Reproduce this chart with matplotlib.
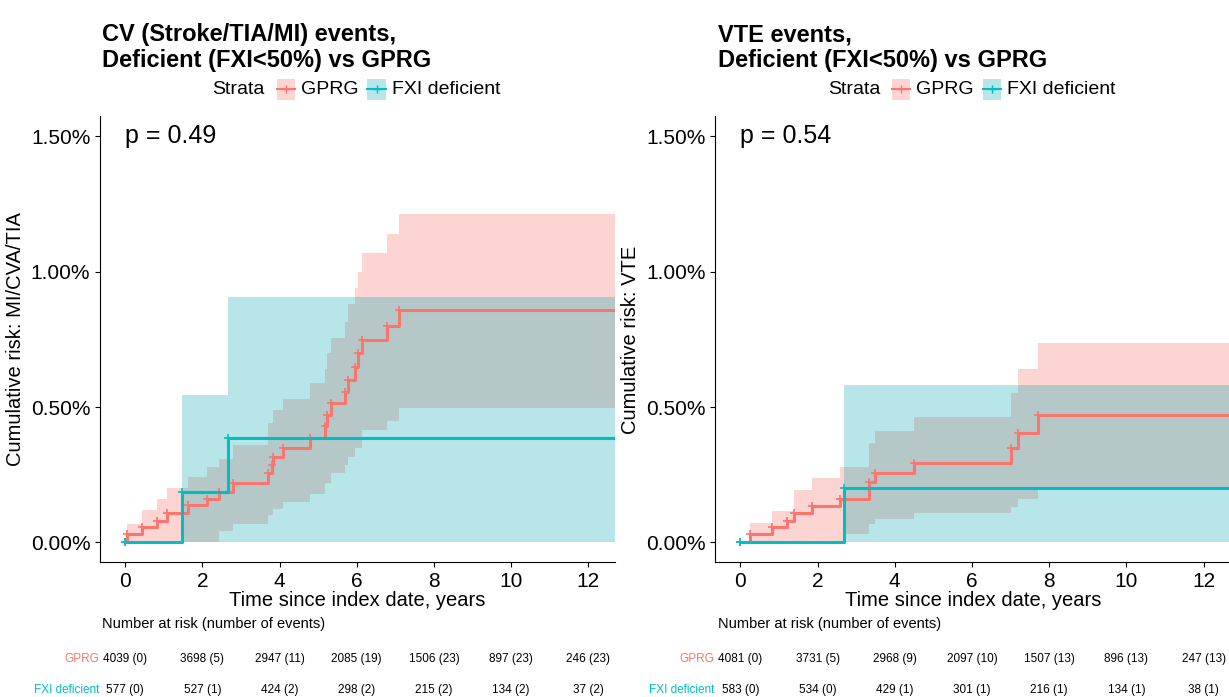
import matplotlib.pyplot as plt
import numpy as np

plt.rcParams['font.family'] = ['Liberation Sans', 'DejaVu Sans']

RED = "#F8766D"
TEAL = "#00BFC4"
TEAL_FILL = "#14A9B2"

# ---- left panel: CV events (years, cumulative risk %)
cv_g_t = [0, 0.04, 0.43, 0.82, 1.08, 1.64, 2.12, 2.42, 2.8, 3.71, 3.8, 3.84, 4.08, 4.79, 5.18,
          5.22, 5.33, 5.7, 5.78, 5.96, 6.04, 6.13, 6.78, 7.1, 12.7]
cv_g_est = [0, 0.033, 0.056, 0.08, 0.107, 0.137, 0.16, 0.185, 0.218, 0.255, 0.285, 0.315, 0.348,
            0.385, 0.43, 0.47, 0.515, 0.555, 0.6, 0.65, 0.70, 0.748, 0.80, 0.86, 0.86]
cv_g_lo = [0, 0, 0, 0, 0, 0, 0, 0.044, 0.07, 0.1, 0.1, 0.125, 0.15, 0.18, 0.22, 0.22, 0.255,
           0.285, 0.315, 0.35, 0.35, 0.415, 0.45, 0.495, 0.495]
cv_g_hi = [0, 0.07, 0.12, 0.16, 0.2, 0.24, 0.28, 0.31, 0.36, 0.44, 0.44, 0.49, 0.53, 0.59, 0.64,
           0.70, 0.755, 0.815, 0.88, 0.94, 1.0, 1.07, 1.14, 1.215, 1.215]
cv_f_t = [0, 1.47, 2.66, 12.7]
cv_f_est = [0, 0.185, 0.385, 0.385]
cv_f_lo = [0, 0, 0, 0]
cv_f_hi = [0, 0.545, 0.908, 0.908]

# ---- right panel: VTE events
vte_g_t = [0, 0.26, 0.82, 1.21, 1.38, 1.86, 2.59, 2.69, 3.34, 3.5, 4.51, 7.0, 7.2, 7.7, 12.7]
vte_g_est = [0, 0.032, 0.057, 0.081, 0.107, 0.135, 0.16, 0.16, 0.223, 0.255, 0.292, 0.348,
             0.405, 0.47, 0.47]
vte_g_lo = [0, 0, 0, 0, 0, 0, 0, 0.033, 0.067, 0.085, 0.107, 0.13, 0.162, 0.195, 0.195]
vte_g_hi = [0, 0.072, 0.118, 0.118, 0.195, 0.238, 0.28, 0.28, 0.367, 0.41, 0.465, 0.553,
            0.64, 0.737, 0.737]
vte_f_t = [0, 2.69, 12.7]
vte_f_est = [0, 0.2, 0.2]
vte_f_lo = [0, 0, 0]
vte_f_hi = [0, 0.58, 0.58]

times = [0, 2, 4, 6, 8, 10, 12]
cv_risk_g = ["4039 (0)", "3698 (5)", "2947 (11)", "2085 (19)", "1506 (23)", "897 (23)", "246 (23)"]
cv_risk_f = ["577 (0)", "527 (1)", "424 (2)", "298 (2)", "215 (2)", "134 (2)", "37 (2)"]
vte_risk_g = ["4081 (0)", "3731 (5)", "2968 (9)", "2097 (10)", "1507 (13)", "896 (13)", "247 (13)"]
vte_risk_f = ["583 (0)", "534 (0)", "429 (1)", "301 (1)", "216 (1)", "134 (1)", "38 (1)"]

fig = plt.figure(figsize=(12.29, 6.97), dpi=100)


def panel(left, width, title, ylabel, pval, groups, risk_g, risk_f):
    ax = fig.add_axes([left, 0.193, width, 0.640])
    for t, est, lo, hi, col, fcol in groups:
        ax.fill_between(t, lo, hi, step="post", color=fcol, alpha=0.3, lw=0)
        ax.step(t, est, where="post", color=col, lw=2.2)
        ax.plot(t[:-1], est[:-1], "+", color=col, ms=6, mew=1.2)
    ax.set_xlim(-0.65, 12.69)
    ax.set_ylim(-0.074, 1.574)
    ax.set_xticks(times)
    ax.set_yticks([0, 0.5, 1.0, 1.5])
    ax.set_yticklabels(["0.00%", "0.50%", "1.00%", "1.50%"])
    ax.tick_params(labelsize=15, colors="black")
    for s in ["top", "right"]:
        ax.spines[s].set_visible(False)
    ax.set_xlabel("Time since index date, years", fontsize=14.5, labelpad=0)
    ax.set_ylabel(ylabel, fontsize=14.5)
    ax.text(0, 1.5, pval, fontsize=18, va="center")
    fig.text(left + 0.002, 0.932, title, fontsize=17, fontweight="bold", va="center",
             linespacing=1.15)
    # legend row
    off = left - 0.0814
    fig.text(0.173 + off, 0.872, "Strata", fontsize=14, va="center")
    for x0, lab, col, fcol in [(0.225, "GPRG", RED, RED), (0.299, "FXI deficient", TEAL, TEAL_FILL)]:
        x0 += off
        fig.patches.append(plt.Rectangle((x0, 0.857), 0.015, 0.03, transform=fig.transFigure,
                                         color=fcol, alpha=0.3, lw=0))
        fig.lines.append(plt.Line2D([x0, x0 + 0.0075, x0 + 0.015], [0.872, 0.872, 0.872],
                                    transform=fig.transFigure, color=col, lw=1.5,
                                    marker="+", markevery=[1], ms=6))
        fig.text(x0 + 0.02, 0.872, lab, fontsize=14, va="center")
    # risk table
    fig.text(left + 0.002, 0.105, "Number at risk (number of events)", fontsize=10.5, va="center")
    for row, (lab, col, vals) in enumerate([("GPRG", RED, risk_g), ("FXI deficient", TEAL, risk_f)]):
        yy = 0.055 - row * 0.045
        xf = ax.transData.transform((0, 0))[0] / fig.bbox.width
        fig.text(xf - 0.021, yy, lab, fontsize=8.5, color=col, ha="right", va="center")
        for tt, v in zip(times, vals):
            xf = ax.transData.transform((tt, 0))[0] / fig.bbox.width
            fig.text(xf, yy, v, fontsize=8.5, ha="center", va="center")
    return ax


panel(0.0814, 0.419, "CV (Stroke/TIA/MI) events,\nDeficient (FXI<50%) vs GPRG",
      "Cumulative risk: MI/CVA/TIA", "p = 0.49",
      [(cv_g_t, cv_g_est, cv_g_lo, cv_g_hi, RED, RED),
       (cv_f_t, cv_f_est, cv_f_lo, cv_f_hi, TEAL, TEAL_FILL)],
      cv_risk_g, cv_risk_f)
panel(0.582, 0.419, "VTE events,\nDeficient (FXI<50%) vs GPRG",
      "Cumulative risk: VTE", "p = 0.54",
      [(vte_g_t, vte_g_est, vte_g_lo, vte_g_hi, RED, RED),
       (vte_f_t, vte_f_est, vte_f_lo, vte_f_hi, TEAL, TEAL_FILL)],
      vte_risk_g, vte_risk_f)

fig.savefig("out.png", dpi=100)
